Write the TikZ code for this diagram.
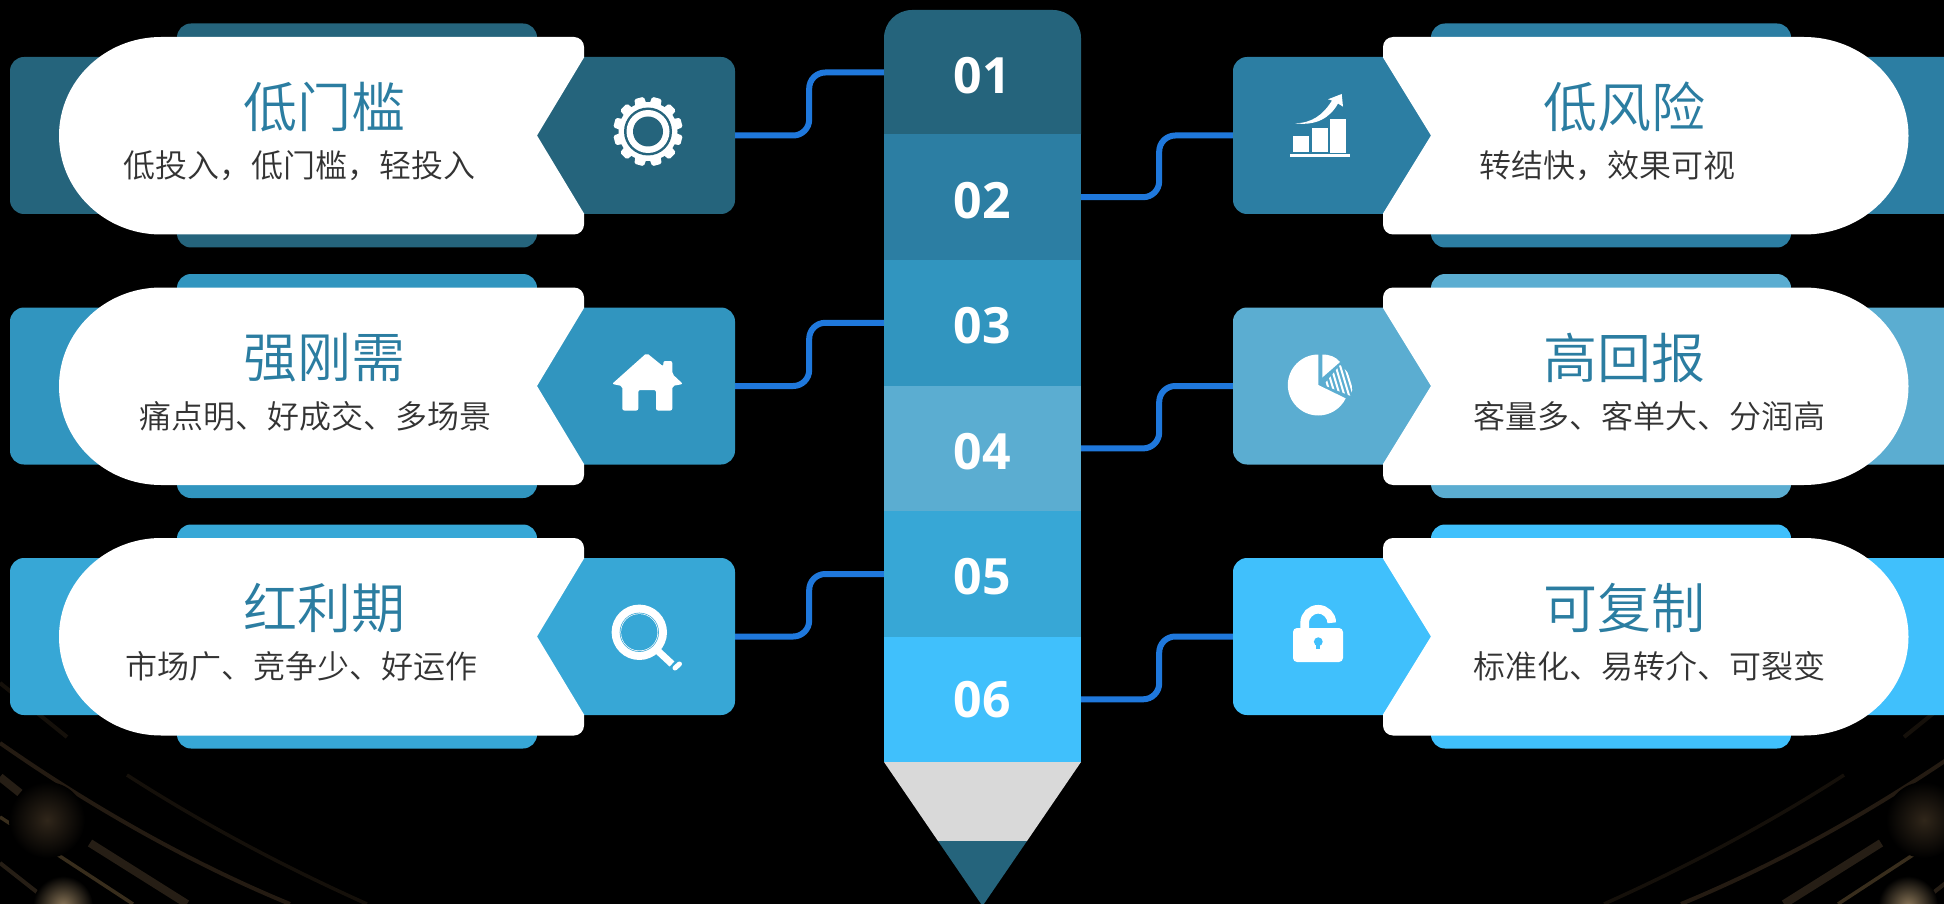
\documentclass[tikz,border=0pt]{standalone}
\usepackage{fontspec}
\setmainfont{Noto Sans CJK SC DemiLight}
\newfontfamily\numfont{Open Sans}
\definecolor{ca}{HTML}{25647C}
\definecolor{cb}{HTML}{2C7EA3}
\definecolor{cc}{HTML}{3195BF}
\definecolor{cd}{HTML}{5BADD1}
\definecolor{ce}{HTML}{37A7D6}
\definecolor{cf}{HTML}{40C0FC}
\definecolor{titlecol}{HTML}{2B7DA1}
\definecolor{subcol}{HTML}{333333}
\definecolor{linkcol}{HTML}{1F78DC}
\definecolor{tipcol}{HTML}{D9D9D9}
\definecolor{brA}{HTML}{241B12}
\definecolor{brB}{HTML}{382D1C}
\definecolor{brC}{HTML}{261E15}
\definecolor{brD}{HTML}{15100A}
\definecolor{glA}{HTML}{30261A}
\definecolor{glB}{HTML}{8A7658}
\newcommand{\segnum}[2]{\raisebox{#1}[0pt][0pt]{#2}}
\tikzset{
  backbox/.style={rounded corners=14pt,inner sep=0pt,minimum width=360pt,minimum height=224pt},
  sidebox/.style={rounded corners=14pt,inner sep=0pt,minimum height=157pt},
  seg/.style={inner sep=0pt,minimum width=197pt,minimum height=125.6pt,text=white,font=\numfont\bfseries\fontsize{50}{58}\selectfont},
  titletext/.style={text=titlecol,inner sep=0pt,font=\fontsize{54}{60}\selectfont},
  subtext/.style={text=subcol,inner sep=0pt,font=\fontsize{32}{38}\selectfont},
  link/.style={draw=linkcol,line width=6pt,rounded corners=16pt},
}
\newcommand{\StreakSet}{%
  \draw[brA,line width=4pt] (0,743) .. controls (100,813) and (200,867) .. (290,904);
  \draw[brB,line width=3.5pt] (0,817) -- (133,904);
  \draw[brC,line width=8pt] (90,843) -- (187,904);
  \draw[brC,line width=8pt] (0,777) -- (20,793);
  \draw[brD,line width=3.5pt] (127,775) .. controls (200,822) and (280,865) .. (367,904);
  \draw[brD,line width=4pt] (0,683) -- (67,737);
  \draw[brC,line width=4pt] (0,863) -- (47,900);
  \shade[inner color=glA,outer color=black] (47,820) circle[radius=38pt];
  \shade[inner color=glB,outer color=black] (63,906) circle[radius=30pt];
}
% #1 row shift, #2 index, #3 colour, #4 title, #5 sub centre x, #6 sub
\newcommand{\LeftRow}[6]{%
  \begin{scope}[shift={(0,#1)}]
    \node[backbox,fill=#3] (bk#2) at (357,135.5) {};
    \node[sidebox,fill=#3,minimum width=725pt] (s#2) at (372.5,135.5) {};
    \fill[white] (161,37) -- (574,37) arc[start angle=90,end angle=0,radius=10pt]
      -- (584,57.5) -- (537,135.5) -- (584,213.5) -- (584,224.5)
      arc[start angle=0,end angle=-90,radius=10pt] -- (161,234.5)
      arc[start angle=270,end angle=90,x radius=102pt,y radius=98.75pt] -- cycle;
    \node[titletext] (t#2) at (324,107) {#4};
    \node[subtext] (d#2) at (#5,165.5) {#6};
  \end{scope}}
\newcommand{\RightRow}[6]{%
  \begin{scope}[shift={(0,#1)}]
    \node[backbox,fill=#3] (bk#2) at (1611,135.5) {};
    \node[sidebox,fill=#3,minimum width=726pt] (s#2) at (1596,135.5) {};
    \fill[white] (1804,37) -- (1393,37) arc[start angle=90,end angle=180,radius=10pt]
      -- (1383,57.5) -- (1431,135.5) -- (1383,213.5) -- (1383,224.5)
      arc[start angle=180,end angle=270,radius=10pt] -- (1804,234.5)
      arc[start angle=-90,end angle=90,x radius=104.5pt,y radius=98.75pt] -- cycle;
    \node[titletext] (t#2) at (1624,107) {#4};
    \node[subtext] (d#2) at (#5,165.5) {#6};
  \end{scope}}
\begin{document}
\begin{tikzpicture}[x=1pt,y=-1pt]
\useasboundingbox (0,0) rectangle (1944,904);
\clip (0,0) rectangle (1944,904);
\fill[black] (0,0) rectangle (1944,904);
% background streaks
\StreakSet
\begin{scope}[xshift=1971pt,xscale=-1]
\StreakSet
\end{scope}
% rows
\LeftRow{0}{1}{ca}{低门槛}{299}{低投入，低门槛，轻投入}
\LeftRow{250.5}{2}{cc}{强刚需}{315.5}{痛点明、好成交、多场景}
\LeftRow{501}{3}{ce}{红利期}{301.5}{市场广、竞争少、好运作}
\RightRow{0}{4}{cb}{低风险}{1607}{转结快，效果可视}
\RightRow{250.5}{5}{cd}{高回报}{1649.5}{客量多、客单大、分润高}
\RightRow{501}{6}{cf}{可复制}{1649.5}{标准化、易转介、可裂变}
% pencil
\fill[ca] (884,134.5) -- (884,38) arc[start angle=180,end angle=90,radius=28pt] -- (1053,10)
  arc[start angle=90,end angle=0,radius=28pt] -- (1081,134.5) -- cycle;
\node[seg] (p1) at (982.5,72.5) {\segnum{-21pt}{01}};
\node[seg,fill=cb] (p2) at (982.5,197.2) {\segnum{-21.5pt}{02}};
\node[seg,fill=cc] (p3) at (982.5,322.8) {\segnum{-21pt}{03}};
\node[seg,fill=cd] (p4) at (982.5,448.4) {\segnum{-21pt}{04}};
\node[seg,fill=ce] (p5) at (982.5,574) {\segnum{-20.5pt}{05}};
\node[seg,fill=cf] (p6) at (982.5,699.3) {\segnum{-18.5pt}{06}};
\fill[tipcol] (884,762) -- (1081,762) -- (1027,841) -- (938,841) -- cycle;
\fill[ca] (938,841) -- (1027,841) -- (982.5,906) -- cycle;
% connectors
\draw[link] (s1.east) -- ++(74,0) |- (p1.west);
\draw[link] (s2.east) -- ++(74,0) |- (p3.west);
\draw[link] (s3.east) -- ++(74,0) |- (p5.west);
\draw[link] (p2.east) -- ++(78,0) |- (s4.west);
\draw[link] (p4.east) -- ++(78,0) |- (s5.west);
\draw[link] (p6.east) -- ++(78,0) |- (s6.west);
% gear
\begin{scope}[shift={(648,131.5)}]
  \fill[white] (0,0) circle[radius=29.5pt];
  \foreach \a in {15,45,...,345}
    \fill[white,rounded corners=1.5pt] (\a-12:27.5pt) -- (\a-8:35pt) -- (\a+8:35pt) -- (\a+12:27.5pt) -- cycle;
  \fill[ca] (0,0) circle[radius=24pt];
  \fill[white] (0,0) circle[radius=21.5pt];
  \fill[ca] (0,0) circle[radius=15pt];
\end{scope}
% house
\fill[white,rounded corners=2pt] (646.7,353) -- (663.3,366.5) -- (663.3,361) -- (672.3,361) -- (672.3,374)
  -- (683,384) -- (672.3,386) -- (672.3,410.5) -- (656,410.5) -- (656,390) -- (638.3,390) -- (638.3,410.5)
  -- (622.3,410.5) -- (622.3,386) -- (612,384) -- cycle;
% magnifier
\fill[white] (639.3,632.3) circle[radius=27.7pt];
\fill[ce] (639.3,632.3) circle[radius=19.6pt];
\fill[white] (639.3,632.3) circle[radius=18.9pt];
\fill[ce] (639.3,632.3) circle[radius=18.2pt];
\draw[white,line width=7pt] (658,651) -- (672,664);
\draw[white,line width=5pt,line cap=round] (675,668) -- (679.5,664);
% chart
\fill[white] (1293,136) rectangle (1309,152);
\fill[white] (1312,128) rectangle (1328,152);
\fill[white] (1330,119) rectangle (1346,153);
\fill[white] (1290,154) rectangle (1350,157);
\fill[white] (1295,123.3) .. controls (1312,123) and (1323,115) .. (1332,100.5)
  -- (1328,99.3) -- (1341.7,94) -- (1343,106.7) -- (1338,103.5)
  .. controls (1330,118) and (1316,126) .. (1295,123.3) -- cycle;
% pie
\fill[white] (1318.3,385) -- (1318.3,354.5) arc[start angle=90,end angle=334,radius=30.5pt] -- cycle;
\fill[white] (1322.3,377.5) -- (1322.3,354.5) .. controls (1330,354.5) and (1336,357) .. (1340,362) -- cycle;
\begin{scope}
  \clip (1323.5,385) -- (1340,365) .. controls (1347,370) and (1352,378) .. (1352.5,385) .. controls (1352.5,389) and (1352,392) .. (1350.7,396) -- cycle;
  \foreach \k in {0,1,...,9}
    \draw[white,line width=2pt] ({1320+\k*4.6},360) -- ({1332+\k*4.6},400);
\end{scope}
% lock
\draw[white,line width=8.7pt] (1304.7,628) -- (1304.7,622.8) arc[start angle=180,end angle=0,radius=13.5pt];
\fill[white,rounded corners=4pt] (1293,628) rectangle (1343,662);
\fill[cf] (1318.3,641.7) circle[radius=4.4pt];
\fill[cf] (1316.2,642) rectangle (1320.4,649.3);
\end{tikzpicture}
\end{document}
